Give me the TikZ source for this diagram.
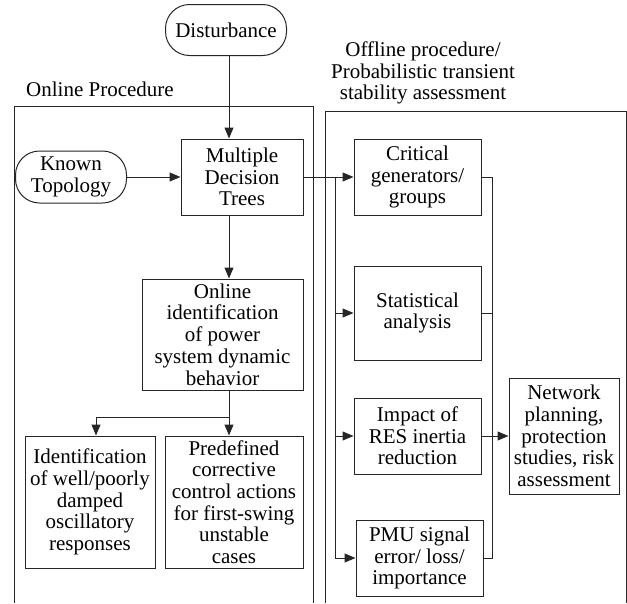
\documentclass[tikz,border=0pt]{standalone}
\usepackage{fontspec}
\setmainfont{Liberation Serif}
\usetikzlibrary{arrows.meta}
\definecolor{ln}{HTML}{262626}
\begin{document}
\begin{tikzpicture}[x=1pt,y=-1pt,
  every node/.style={font=\fontsize{21}{21.7}\selectfont, text=black},
  box/.style={draw=ln, line width=1pt, rectangle, inner sep=0pt, align=center},
  stad/.style={box, rounded corners=24pt},
  lbl/.style={align=center, inner sep=0pt},
  arr/.style={draw=ln, line width=1pt, -{Triangle[length=11pt,width=9pt]}},
  ln/.style={draw=ln, line width=1pt}]
\useasboundingbox (0,0) rectangle (627,603);
% frames
\draw[ln] (14,603) |- (313,106) -- (313,603);
\draw[ln] (325,603) |- (626,111) -- (626,603);
\node[lbl] (onlbl) at (100,89) {Online Procedure};
\node[lbl] (offlbl) at (423,73) {Offline procedure/\\Probabilistic transient\\stability assessment};
% nodes
\node[stad, minimum width=121pt, minimum height=51pt] (dist) at (226,30) {Disturbance};
\node[stad, minimum width=111pt, minimum height=52pt] (known) at (71,177) {Known\\Topology};
\node[box, minimum width=122pt, minimum height=76pt] (mdt) at (242,177) {Multiple\\Decision\\Trees};
\node[box, minimum width=161pt, minimum height=111pt] (onid) at (222.5,334.5) {Online\\identification\\of power\\system dynamic\\behavior};
\node[box, minimum width=130pt, minimum height=132pt] (ident) at (90,502) {Identification\\of well/poorly\\damped\\oscillatory\\responses};
\node[box, minimum width=138pt, minimum height=132pt] (pred) at (234,502) {Predefined\\corrective\\control actions\\for first-swing\\unstable\\cases};
\node[box, minimum width=127pt, minimum height=76pt] (crit) at (417.5,177) {Critical\\generators/\\groups};
\node[box, minimum width=127pt, minimum height=94pt] (stat) at (417.5,313) {Statistical\\analysis};
\node[box, minimum width=127pt, minimum height=76pt] (imp) at (417.5,436) {Impact of\\RES inertia\\reduction};
\node[box, minimum width=127pt, minimum height=76pt] (pmu) at (419.5,558) {PMU signal\\error/ loss/\\importance};
\node[box, minimum width=110pt, minimum height=116pt] (net) at (564,436) {Network\\planning,\\protection\\studies, risk\\assessment};
% helper coordinates
\coordinate (spine) at (229,0);
\coordinate (split) at (229,417);
\coordinate (lsplit) at (96,417);
\coordinate (busl) at (335,177);
\coordinate (busr) at (492,177);
% connectors
\draw[arr] (dist.south -| spine) -- (mdt.north -| spine);
\draw[arr] (known.east) -- (mdt.west);
\draw[arr] (mdt.south -| spine) -- (onid.north -| spine);
\draw[ln] (onid.south -| spine) -- (split);
\draw[arr] (split) -- (pred.north -| split);
\draw[arr] (split) -- (lsplit) -- (ident.north -| lsplit);
\draw[arr] (mdt.east) -- (crit.west);
\draw[arr] (busl) |- (pmu.west);
\draw[arr] (busl |- stat.west) -- (stat.west);
\draw[arr] (busl |- imp.west) -- (imp.west);
\draw[ln] (crit.east) -- (busr) -- (busr |- pmu.east) -- (pmu.east);
\draw[ln] (stat.east) -- (stat.east -| busr);
\draw[arr] (imp.east) -- (net.west);
\end{tikzpicture}
\end{document}
